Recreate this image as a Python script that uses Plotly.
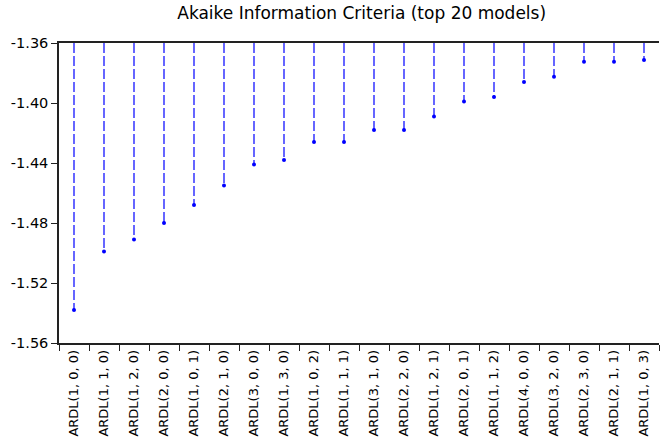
import plotly.graph_objects as go

models = ["ARDL(1, 0, 0)", "ARDL(1, 1, 0)", "ARDL(1, 2, 0)", "ARDL(2, 0, 0)", "ARDL(1, 0, 1)",
          "ARDL(2, 1, 0)", "ARDL(3, 0, 0)", "ARDL(1, 3, 0)", "ARDL(1, 0, 2)", "ARDL(1, 1, 1)",
          "ARDL(3, 1, 0)", "ARDL(2, 2, 0)", "ARDL(1, 2, 1)", "ARDL(2, 0, 1)", "ARDL(1, 1, 2)",
          "ARDL(4, 0, 0)", "ARDL(3, 2, 0)", "ARDL(2, 3, 0)", "ARDL(2, 1, 1)", "ARDL(1, 0, 3)"]
aic = [-1.538, -1.499, -1.491, -1.480, -1.468, -1.455, -1.441, -1.438, -1.426, -1.426,
       -1.418, -1.418, -1.409, -1.399, -1.396, -1.386, -1.3825, -1.3725, -1.3725, -1.3713]
y_ticks = [-1.36, -1.40, -1.44, -1.48, -1.52, -1.56]
base = -1.36

xs, ys = [], []
for m, v in zip(models, aic):
    xs += [m, m, None]
    ys += [base, v, None]

fig = go.Figure()
fig.add_trace(go.Scatter(x=xs, y=ys, mode="lines",
                         line=dict(color="#0000ff", width=1.2, dash="10px,3px"),
                         hoverinfo="skip", showlegend=False))
fig.add_trace(go.Scatter(x=models, y=aic, mode="markers",
                         marker=dict(color="#0000ff", size=4, symbol="circle"),
                         showlegend=False))

fig.update_layout(
    width=660, height=443,
    margin=dict(l=59, r=1, t=43, b=100),
    paper_bgcolor="white", plot_bgcolor="white",
    font=dict(family="DejaVu Sans, sans-serif", color="black"),
    title=dict(text="Akaike Information Criteria (top 20 models)", x=0.548, xanchor="center",
               y=0.970, yanchor="middle", font=dict(size=17)),
    xaxis=dict(type="category", categoryorder="array", categoryarray=models,
               tickvals=models, ticktext=models,
               tickangle=-90, tickfont=dict(size=13),
               showline=True, linecolor="#222", linewidth=1.5, mirror=True,
               ticks="outside", ticklen=6, tickcolor="#222", tickson="boundaries",
               showgrid=False, zeroline=False, range=[-0.5, 19.5]),
    yaxis=dict(range=[-1.56, -1.36], tickvals=y_ticks, ticktext=[f"{t:.2f}" for t in y_ticks],
               tickfont=dict(size=14.5), showline=True, linecolor="#222", linewidth=1.5,
               ticks="outside", ticklen=6, tickcolor="#222",
               showgrid=False, zeroline=False),
)

fig.write_html("out.html", config={"displayModeBar": False},
               post_script="document.body.style.margin='0';")
